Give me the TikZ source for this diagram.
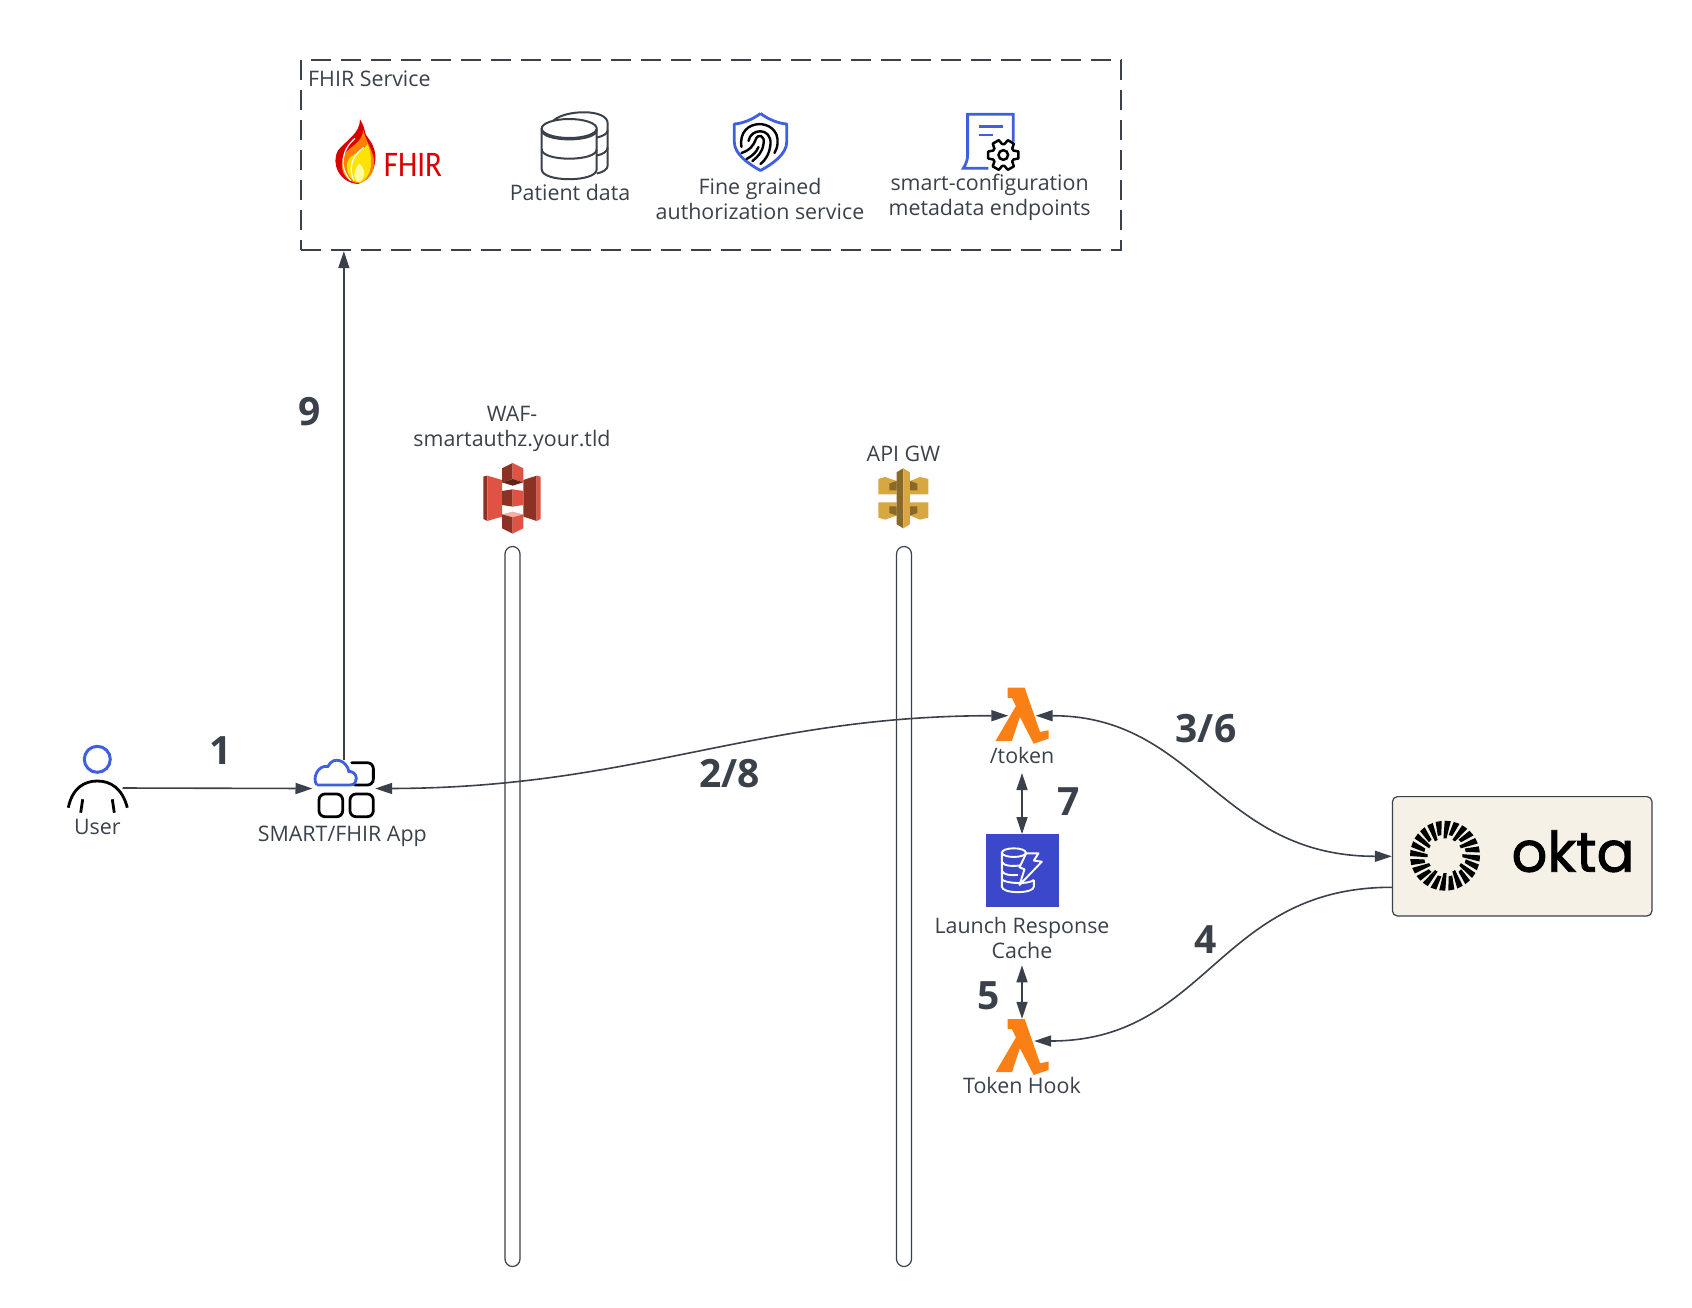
\documentclass[tikz,border=0pt]{standalone}
\usepackage{fontspec}
\setmainfont{Open Sans}
\newfontfamily\fhirfont{Carlito}
\newfontfamily\oktafont[FakeBold=1.6]{Poppins}
\usepackage{xcolor}
\usetikzlibrary{arrows.meta,positioning}

\definecolor{inkgrey}{HTML}{3A414A}
\definecolor{iconblue}{HTML}{3F5FE0}
\definecolor{lambdaorange}{HTML}{FA7F14}
\definecolor{wafred}{HTML}{E05243}
\definecolor{wafdark}{HTML}{8C3123}
\definecolor{gwgold}{HTML}{D9A741}
\definecolor{gwdark}{HTML}{876929}
\definecolor{dynoblue}{HTML}{3B48CC}
\definecolor{oktacream}{HTML}{F5F1E7}

\tikzset{
	txtlabel/.style={inner sep=2pt, text=inkgrey, align=center, font=\fontsize{21.4}{25}\selectfont},
	steplabel/.style={inner sep=0pt, text=inkgrey, font=\fontsize{39}{40}\selectfont\bfseries},
	iconspot/.style={inner sep=0pt, minimum width=#1, minimum height=56pt},
	flow/.style={draw=inkgrey, line width=1.6pt, arrows={-{Stealth[inset=0pt,length=17pt,width=11pt]}}},
	flowboth/.style={flow, arrows={{Stealth[inset=0pt,length=17pt,width=11pt]}-{Stealth[inset=0pt,length=17pt,width=11pt]}}},
	pipe/.style={draw=inkgrey, line width=1.2pt, fill=white, rounded corners=7.5pt},
	blackline/.style={draw=black, line width=2.8pt, line cap=round},
	blueline/.style={draw=iconblue, line width=2.8pt},
}

\begin{document}
\begin{tikzpicture}[x=1pt,y=-1pt]
	\useasboundingbox (0,0) rectangle (1692,1307);

	% The dashed service box and what is inside it
	\node[draw=inkgrey, line width=2pt, dash pattern=on 20pt off 10pt, minimum width=820pt, minimum height=190pt, inner sep=0pt] (fhirBox) at (711,155.2) {};
	\node[txtlabel, anchor=west] (fhirTitle) at (306,79.2) {FHIR Service};

	% Flame and FHIR word
	\node[inner sep=0pt] (fhirIcon) at (356,152) {};
	\begin{scope}[shift={(fhirIcon.center)}, x=.3333pt, y=-.3333pt, shift={(-78,-126)}]
		\fill[red!85!black] (90,28) .. controls (110,60) and (100,70) .. (115,85) .. controls (145,120) and (150,190) .. (85,222) .. controls (30,220) and (0,160) .. (25,120) .. controls (50,90) and (90,70) .. (90,28);
		\fill[orange] (100,60) .. controls (108,100) and (137,130) .. (132,165) .. controls (130,195) and (110,215) .. (85,220) .. controls (40,215) and (22,170) .. (45,130) .. controls (62,108) and (95,100) .. (100,60);
		\fill[yellow!85!orange] (112,100) .. controls (132,150) and (127,200) .. (90,218) .. controls (55,215) and (40,170) .. (58,145) .. controls (75,125) and (105,125) .. (112,100);
		\fill[yellow!35] (88,160) .. controls (108,180) and (108,205) .. (88,216) .. controls (68,210) and (68,185) .. (88,160);
		\draw[white, line width=1.2pt] (75,85) .. controls (35,120) and (25,170) .. (62,212);
		\draw[white, line width=1.2pt] (102,112) .. controls (75,130) and (50,165) .. (72,212);
	\end{scope}
	\node[inner sep=0pt, text=red!85!black, xscale=.86, font=\fontsize{36}{36}\selectfont\fhirfont] (fhirWord) at (413,165) {FHIR};

	% Patient data, two cylinders one behind the other
	\node[inner sep=0pt] (patientIcon) at (573.5,145.5) {};
	\begin{scope}[shift={(patientIcon.center)}, draw=inkgrey, line width=2pt]
		\draw (-20,-25) .. controls (-8,-36) and (34.2,-37) .. (34.2,-22) -- (34.2,20) .. controls (34.2,24) and (29,27) .. (23.2,28);
		\draw (23.2,-8) .. controls (29,-9) and (34.2,-12) .. (34.2,-15);
		\draw (23.2,10) .. controls (29,9) and (34.2,6) .. (34.2,2);
		\draw (-4.3,-17) ellipse [x radius=27.5, y radius=9.5];
		\draw (-31.8,-17) -- (-31.8,23.8) .. controls (-31.8,37) and (23.2,37) .. (23.2,23.8) -- (23.2,-17);
		\draw (-31.8,-15.5) .. controls (-31.8,-3) and (23.2,-3) .. (23.2,-15.5);
		\draw (-31.8,3.8) .. controls (-31.8,16.3) and (23.2,16.3) .. (23.2,3.8);
	\end{scope}
	\node[txtlabel] (patientLabel) at (570,192.5) {Patient data};

	% Shield with fingerprint
	\node[inner sep=0pt] (shieldIcon) at (760.5,142) {};
	\begin{scope}[shift={(shieldIcon.center)}]
		\draw[blueline, line join=round] (0,-28.5) .. controls (8,-22.5) and (18,-18.5) .. (26.2,-18) -- (26.2,0) .. controls (26.2,12) and (12,22) .. (0,28.5) .. controls (-12,22) and (-26.2,12) .. (-26.2,0) -- (-26.2,-18) .. controls (-18,-18.5) and (-8,-22.5) .. (0,-28.5);
		\draw[blackline, line width=2.4pt] (-19,5) .. controls (-24,-25) and (20,-25) .. (17,2) .. controls (16.5,6) and (15.5,8) .. (14,11);
		\draw[blackline, line width=2.4pt] (-12,-1) .. controls (-10,-14) and (11,-15) .. (10,2) .. controls (9,12) and (5,18) .. (0,22);
		\draw[blackline, line width=2.4pt] (-19,11) .. controls (-10,8) and (-7,3) .. (-5,-2) .. controls (-3,-9) and (5,-7) .. (3,2) .. controls (2,10) and (-3,15) .. (-8,19);
		\draw[blackline, line width=2.4pt] (-14,17) .. controls (-8,14) and (-4,10) .. (-2,5);
	\end{scope}
	\node[txtlabel] (fineLabel) at (760,199) {Fine grained\\authorization service};

	% Document with gear
	\node[inner sep=0pt] (docIcon) at (989.6,141) {};
	\begin{scope}[shift={(docIcon.center)}]
		\draw[blueline] (-1.3,27.3) -- (-26.3,27.3) .. controls (-23,22) and (-22,18) .. (-22,14) -- (-22,-26.7) -- (23.7,-26.7) -- (23.7,.7);
		\draw[blueline] (-10.3,-14.3) -- (13,-14.3);
		\draw[blueline] (-10.3,-6) -- (3.7,-6);
		\begin{scope}[shift={(13.7,14)}]
			\draw[black, line width=2.5pt, line join=round, fill=white] (-13:15.5) \foreach \a in {0,60,...,300} {-- (\a-13:15.5) -- (\a+13:15.5) -- (\a+24:11) -- (\a+36:11)} -- cycle;
			\draw[black, line width=2.5pt] (0,0) circle (4.8);
		\end{scope}
	\end{scope}
	\node[txtlabel] (smartLabel) at (989.6,197.7) {smart-configuration\\metadata endpoints};

	% The user
	\node[inner sep=0pt, minimum width=50pt, minimum height=50pt] (userIcon) at (97.3,788) {};
	\begin{scope}[shift={(userIcon.center)}]
		\draw[blueline, line width=3pt] (0,-28.7) circle (13);
		\draw[blackline, line cap=butt] (-29,19.7) .. controls (-25,0) and (-13,-7) .. (0,-7) .. controls (13,-7) and (25,0) .. (30,19.7);
		\draw[blackline, line cap=butt] (-14.6,11.3) -- (-16.6,24.7);
		\draw[blackline, line cap=butt] (15,11.3) -- (17,24.7);
	\end{scope}
	\node[txtlabel] (userLabel) at (97.3,826.7) {User};

	% The app, a cloud and three squares
	\node[inner sep=0pt, minimum width=62.3pt, minimum height=57pt] (appIcon) at (343.85,788.5) {};
	\begin{scope}[shift={(appIcon.center)}]
		\draw[blackline, rounded corners=6pt] (8,-25.8) -- (29.5,-25.8) -- (29.5,-3.5) -- (11,-3.5);
		\draw[blackline, rounded corners=6pt] (-24.85,5.5) rectangle (-1.15,28.2);
		\draw[blackline, rounded corners=6pt] (6.15,5.5) rectangle (29.45,28.2);
		\draw[blueline, fill=white] (-27,-3.5) -- (6,-3.5) .. controls (11,-3.5) and (12.5,-7) .. (12.5,-10) .. controls (12.5,-15) and (8,-17.5) .. (5,-17) .. controls (3.5,-27) and (-10,-34) .. (-16,-22) .. controls (-26,-24) and (-32,-10) .. (-27,-3.5);
	\end{scope}
	\node[txtlabel] (appLabel) at (342.3,836.5) {SMART/FHIR App};

	% The two long pipes
	\node[pipe, minimum width=15pt, minimum height=720pt, inner sep=0pt] (wafPipe) at (512.5,906.5) {};
	\node[pipe, minimum width=15pt, minimum height=720pt, inner sep=0pt] (gwPipe) at (904,906.5) {};

	% WAF icon
	\node[inner sep=0pt] (wafIcon) at (512,498.3) {};
	\node[txtlabel] (wafLabel) at (512,428.5) {WAF-\\smartauthz.your.tld};
	\begin{scope}[shift={(wafIcon.center)}, x=.3333pt, y=-.3333pt, shift={(-126,-130)}]
		\fill[wafdark] (40,65) -- (52,62) -- (52,198) -- (40,192) -- cycle;
		\fill[wafred] (52,62) -- (96,75) -- (96,185) -- (52,198) -- cycle;
		\fill[wafdark] (160,75) -- (200,62) -- (200,198) -- (160,185) -- cycle;
		\fill[wafred] (200,62) -- (212,65) -- (212,192) -- (200,198) -- cycle;
		\fill[wafdark] (96,40) -- (128,24) -- (128,72) -- (96,82) -- cycle;
		\fill[wafred] (128,24) -- (160,40) -- (160,82) -- (128,72) -- cycle;
		\fill[wafdark!70!black] (96,82) -- (128,72) -- (160,82) -- (128,92) -- cycle;
		\fill[wafdark] (96,108) -- (128,103) -- (128,155) -- (96,150) -- cycle;
		\fill[wafred] (128,103) -- (160,108) -- (160,150) -- (128,155) -- cycle;
		\fill[wafred!45!white] (96,178) -- (128,170) -- (160,178) -- (128,187) -- cycle;
		\fill[wafdark] (96,178) -- (128,187) -- (128,236) -- (96,220) -- cycle;
		\fill[wafred] (128,187) -- (160,178) -- (160,220) -- (128,236) -- cycle;
	\end{scope}

	% API gateway icon
	\node[inner sep=0pt] (gwIcon) at (903.3,498.3) {};
	\node[txtlabel] (gwLabel) at (903.4,453.8) {API GW};
	\begin{scope}[shift={(gwIcon.center)}, x=.3333pt, y=-.3333pt]
		\foreach \flip in {1,-1} {
			\begin{scope}[yscale=\flip]
				\fill[gwgold] (-75,-58) -- (-55,-64) -- (-20,-52) -- (-20,-12) -- (-75,-12) -- cycle;
				\fill[gwdark] (-42,-44) -- (-20,-52) -- (-20,-24) -- (-42,-24) -- cycle;
				\fill[gwgold] (20,-52) -- (50,-64) -- (75,-58) -- (75,-12) -- (20,-12) -- cycle;
				\fill[gwdark] (20,-52) -- (42,-44) -- (42,-24) -- (20,-24) -- cycle;
			\end{scope}
		}
		\fill[gwdark] (-20,-78) -- (0,-90) -- (0,90) -- (-20,78) -- cycle;
		\fill[gwgold] (0,-90) -- (20,-78) -- (20,78) -- (0,90) -- cycle;
	\end{scope}

	% Lambda for /token
	\node[iconspot=27pt] (tokenIcon) at (1022,715.7) {};
	\node[txtlabel] (tokenLabel) at (1022,755.6) {/token};
	\fill[lambdaorange, shift={(tokenIcon.center)}, x=53pt, y=-56pt, shift={(-.5,-.5)}] (.23,0) -- (.55,0) -- (.84,.79) -- (1,.76) -- (1,.91) -- (.72,1) -- (.46,.52) -- (.31,.95) -- (0,.95) -- (.385,.33) -- (.31,.18) -- (.23,.18) -- cycle;

	% Cache
	\node[fill=dynoblue, minimum size=73pt, inner sep=0pt] (cacheIcon) at (1022,870.8) {};
	\begin{scope}[shift={(cacheIcon.center)}, x=.3333pt, y=-.3333pt, shift={(-112.5,-122.5)}, draw=white, line width=1.9pt]
		\draw (88,68) ellipse [x radius=36, y radius=13];
		\draw (52,68) -- (52,170) .. controls (52,192) and (148,192) .. (148,170) -- (148,150);
		\draw (52,95) .. controls (55,108) and (85,110) .. (108,106);
		\draw (52,122) .. controls (55,135) and (80,137) .. (100,135);
		\draw (52,148) .. controls (60,160) and (130,165) .. (148,150);
		\draw[line join=round] (125,70) -- (162,70) -- (148,92) -- (172,95) -- (105,165) -- (120,118) -- (105,112) -- cycle;
	\end{scope}
	\node[txtlabel] (cacheLabel) at (1022,938.4) {Launch Response\\Cache};

	% Lambda for the hook
	\node[iconspot=24pt] (hookIcon) at (1022,1047) {};
	\node[txtlabel] (hookLabel) at (1022,1085.5) {Token Hook};
	\fill[lambdaorange, shift={(hookIcon.center)}, x=53pt, y=-56pt, shift={(-.5,-.5)}] (.23,0) -- (.55,0) -- (.84,.79) -- (1,.76) -- (1,.91) -- (.72,1) -- (.46,.52) -- (.31,.95) -- (0,.95) -- (.385,.33) -- (.31,.18) -- (.23,.18) -- cycle;

	% Okta card
	\node[draw=inkgrey, line width=1.2pt, fill=oktacream, rounded corners=5pt, minimum width=259.5pt, minimum height=119.4pt, inner sep=0pt] (oktaCard) at (1522.2,856.3) {};
	\node[inner sep=0pt] (oktaBurst) at (1445,855.7) {};
	\begin{scope}[shift={(oktaBurst.center)}]
		\foreach \s/\r in {0/17.5,15/21} {
			\foreach \a in {0,30,...,330} \fill[black] (\a+\s-5:\r) -- (\a+\s+5:\r) -- (\a+\s+9.5:35) -- (\a+\s-.5:35) -- cycle;
		}
	\end{scope}
	\node[inner sep=0pt, anchor=base, font=\fontsize{56}{56}\selectfont\oktafont, text=black] (oktaWord) at (1573,871.7) {okta};

	% Connectors
	\draw[flow] (userIcon.east) -- (appIcon.west);
	\draw[flow] (appIcon.north) -- (appIcon.north |- fhirBox.south);
	\draw[flowboth] (appIcon.east) .. controls (636,788) and (755,715.7) .. (tokenIcon.west);
	\draw[flowboth] (tokenIcon.east) .. controls (1197,715.7) and (1218,856.3) .. (oktaCard.west);
	\draw[flow] ([yshift=-31pt]oktaCard.west) .. controls (1218,887) and (1207.6,1041) .. ([yshift=6pt]hookIcon.east);
	\draw[flowboth] ([yshift=-7pt]tokenLabel.south) -- (cacheIcon.north);
	\draw[flowboth] ([yshift=-4pt]cacheLabel.south) -- (hookIcon.north);

	% Step numbers
	\node[steplabel] (stepOne) at (221,751) {1};
	\node[steplabel] (stepNine) at (309.4,411.7) {9};
	\node[steplabel] (stepTwoEight) at (729.7,774) {2/8};
	\node[steplabel] (stepThreeSix) at (1206,728.7) {3/6};
	\node[steplabel] (stepSeven) at (1069,802) {7};
	\node[steplabel] (stepFour) at (1206,940) {4};
	\node[steplabel] (stepFive) at (988.4,996) {5};
\end{tikzpicture}
\end{document}
